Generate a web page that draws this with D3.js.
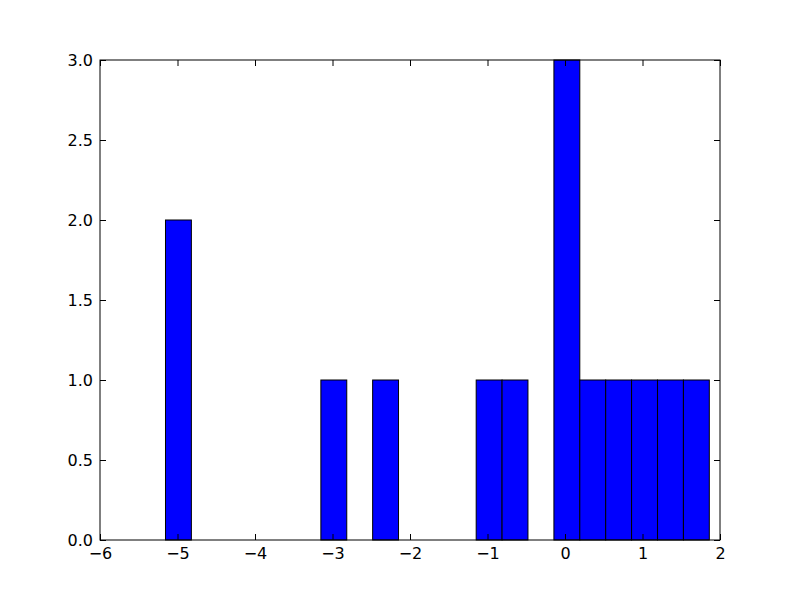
<!DOCTYPE html>
<html><head><meta charset="utf-8">
<script src="https://cdn.jsdelivr.net/npm/d3@7/dist/d3.min.js"></script>
<style>body{margin:0;background:#fff}</style>
</head><body>
<script>
// Histogram bins (left edges) and counts
const binLeft = [-5.155, -3.150, -2.482, -1.146, -0.812, -0.143, 0.191, 0.525, 0.859, 1.194, 1.528];
const binCount = [2, 1, 1, 1, 1, 3, 1, 1, 1, 1, 1];
const binWidth = 0.334;
const xTicks = [-6, -5, -4, -3, -2, -1, 0, 1, 2];
const yTicks = [0, 0.5, 1.0, 1.5, 2.0, 2.5, 3.0];

const W = 800, H = 600;
const m = {left: 100, right: 80, top: 60, bottom: 60};
const svg = d3.select("body").append("svg").attr("width", W).attr("height", H)
  .style("font-family", "DejaVu Sans").style("font-size", "16px");

const x = d3.scaleLinear().domain([-6, 2]).range([m.left, W - m.right]);
const y = d3.scaleLinear().domain([0, 3]).range([H - m.bottom, m.top]);

const bars = binLeft.map((l, i) => ({l, c: binCount[i]}));
svg.append("g").selectAll("rect").data(bars).join("rect")
  .attr("x", d => x(d.l)).attr("width", d => x(d.l + binWidth) - x(d.l))
  .attr("y", d => y(d.c)).attr("height", d => y(0) - y(d.c))
  .attr("fill", "#0000ff").attr("stroke", "#000").attr("stroke-width", 1);

const fmtX = d => (d < 0 ? "\u2212" + Math.abs(d) : String(d));
const fmtY = d3.format(".1f");
const tl = 6;

const gb = svg.append("g").attr("transform", `translate(0,${H - m.bottom})`)
  .call(d3.axisBottom(x).tickValues(xTicks).tickFormat(fmtX).tickSizeInner(-tl).tickSizeOuter(0).tickPadding(8));
const gt = svg.append("g").attr("transform", `translate(0,${m.top})`)
  .call(d3.axisTop(x).tickValues(xTicks).tickFormat("").tickSizeInner(-tl).tickSizeOuter(0));
const gl = svg.append("g").attr("transform", `translate(${m.left},0)`)
  .call(d3.axisLeft(y).tickValues(yTicks).tickFormat(fmtY).tickSizeInner(-tl).tickSizeOuter(0).tickPadding(7));
const gr = svg.append("g").attr("transform", `translate(${W - m.right},0)`)
  .call(d3.axisRight(y).tickValues(yTicks).tickFormat("").tickSizeInner(-tl).tickSizeOuter(0));

[gb, gt, gl, gr].forEach(g => {
  g.select(".domain").remove();
  g.selectAll("line").attr("stroke", "#000");
  g.selectAll("text").attr("fill", "#000").style("font-family", "DejaVu Sans").style("font-size", "16px");
});

svg.append("rect").attr("x", m.left).attr("y", m.top)
  .attr("width", W - m.left - m.right).attr("height", H - m.top - m.bottom)
  .attr("fill", "none").attr("stroke", "#000").attr("stroke-width", 1);
</script>
</body></html>
